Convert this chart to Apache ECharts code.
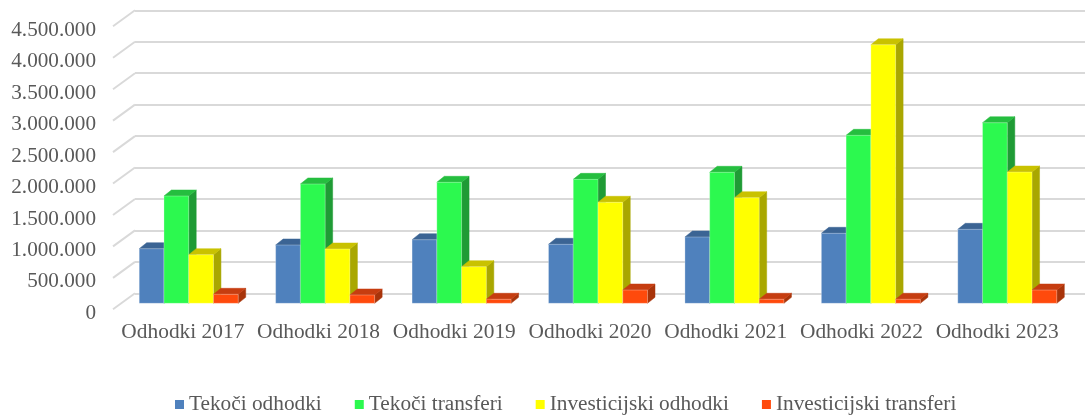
<!DOCTYPE html>
<html>
<head>
<meta charset="utf-8">
<script src="https://cdn.jsdelivr.net/npm/echarts@6/dist/echarts.min.js"></script>
<style>
html,body{margin:0;padding:0;background:#fff;}
#chart{width:1085px;height:417px;}
</style>
</head>
<body>
<div id="chart"></div>
<script>
// ---- data ----
var categories = ['Odhodki 2017','Odhodki 2018','Odhodki 2019','Odhodki 2020','Odhodki 2021','Odhodki 2022','Odhodki 2023'];
var seriesNames = ['Tekoči odhodki','Tekoči transferi','Investicijski odhodki','Investicijski transferi'];
var tekociOdhodki = [868000, 927000, 1011000, 938000, 1054000, 1113000, 1176000];
var tekociTransferi = [1706000, 1897000, 1924000, 1971000, 2083000, 2671000, 2871000];
var investicijskiOdhodki = [773000, 863000, 582000, 1606000, 1679000, 4111000, 2087000];
var investicijskiTransferi = [143000, 132000, 64000, 211000, 64000, 64000, 211000];
var yTicks = [0, 500000, 1000000, 1500000, 2000000, 2500000, 3000000, 3500000, 4000000, 4500000];

// ---- styles ----
var faceColors = [
  {front:'#4F81BD', top:'#3B6494', side:'#345A87'},
  {front:'#2CF94F', top:'#25BE3F', side:'#1F9B35'},
  {front:'#FFFF00', top:'#C9C200', side:'#A9A700'},
  {front:'#FF4A0C', top:'#C63D10', side:'#A8340A'}
];
var BAR_RATIO = 0.1814;   // bar width / category width
var DEPTH_DX = 7.5, DEPTH_DY = 6; // bar depth
var FLOOR_DX = 22, FLOOR_DY = 16; // wall-to-front depth
var FONT = '"Liberation Serif", "Times New Roman", serif';
var TEXT_COLOR = '#595959';
var GRID_COLOR = '#D9D9D9';

function fmt(v){ return String(v).replace(/\B(?=(\d{3})+(?!\d))/g, '.'); }

var allValues = [tekociOdhodki, tekociTransferi, investicijskiOdhodki, investicijskiTransferi];

function makeBarRender(s){
  var c = faceColors[s];
  return function(params, api){
    var idx = api.value(0), val = api.value(1);
    var top = api.coord([idx, val]);
    var base = api.coord([idx, 0]);
    var band = api.size([1, 0])[0];
    var w = band * BAR_RATIO;
    var x0 = top[0] - 2 * w + s * w;
    var yT = top[1], yB = base[1];
    return {
      type: 'group',
      children: [
        {type:'polygon', shape:{points:[[x0+w,yT],[x0+w+DEPTH_DX,yT-DEPTH_DY],[x0+w+DEPTH_DX,yB-DEPTH_DY],[x0+w,yB]]},
         style:{fill:c.side, stroke:c.side, lineWidth:0.5}},
        {type:'polygon', shape:{points:[[x0,yT],[x0+DEPTH_DX,yT-DEPTH_DY],[x0+w+DEPTH_DX,yT-DEPTH_DY],[x0+w,yT]]},
         style:{fill:c.top, stroke:c.top, lineWidth:0.5}},
        {type:'rect', shape:{x:x0, y:yT, width:w, height:yB-yT},
         style:{fill:c.front, stroke:'rgba(255,255,255,0.35)', lineWidth:0.8}}
      ]
    };
  };
}

var series = [];
// diagonal floor-to-wall gridline pieces on the back-wall grid
series.push({
  type:'custom', name:'_diag', xAxisIndex:2, yAxisIndex:2, silent:true, z:1,
  data: yTicks.map(function(v){ return [0, v]; }),
  encode:{x:0, y:1},
  renderItem: function(params, api){
    var p = api.coord([0, api.value(1)]);
    var x = params.coordSys.x;
    return {type:'line', shape:{x1:x, y1:p[1], x2:x-FLOOR_DX, y2:p[1]+FLOOR_DY},
            style:{stroke:GRID_COLOR, lineWidth:2}};
  }
});
for (var s = 0; s < 4; s++) {
  series.push({
    type:'custom', name:seriesNames[s], xAxisIndex:1, yAxisIndex:1, z:2+s,
    itemStyle:{color:faceColors[s].front},
    data: allValues[s].map(function(v, i){ return [i, v]; }),
    encode:{x:0, y:1},
    clip:false,
    renderItem: makeBarRender(s)
  });
}

var yBase = {type:'value', min:0, max:4500000, interval:500000};
function yAxis(opts){ return Object.assign({}, yBase, opts); }

var option = {
  animation:false,
  backgroundColor:'#fff',
  grid:[
    {left:115, width:950, top:30.3, height:283},       // front plane (labels)
    {left:120.5, width:955, top:20.3, height:283},     // bar plane
    {left:135, right:0, top:10.3, height:283}          // back wall
  ],
  xAxis:[
    {type:'category', gridIndex:0, data:categories, axisLine:{show:false}, axisTick:{show:false},
     axisLabel:{color:TEXT_COLOR, fontFamily:FONT, fontSize:21.4, margin:9, interval:0}},
    {type:'category', gridIndex:1, data:categories, show:false},
    {type:'category', gridIndex:2, data:categories, show:false}
  ],
  yAxis:[
    yAxis({gridIndex:0, axisLine:{show:false}, axisTick:{show:false}, splitLine:{show:false},
      axisLabel:{color:TEXT_COLOR, fontFamily:FONT, fontSize:21.2, margin:19, formatter:fmt}}),
    yAxis({gridIndex:1, show:false}),
    yAxis({gridIndex:2, axisLine:{show:false}, axisTick:{show:false}, axisLabel:{show:false},
      splitLine:{show:true, lineStyle:{color:GRID_COLOR, width:2}}})
  ],
  legend:{
    data:seriesNames, left:170, top:389, icon:'rect', itemWidth:9, itemHeight:9, itemGap:33,
    textStyle:{color:TEXT_COLOR, fontFamily:FONT, fontSize:21.3}
  },
  series: series
};

var chart = echarts.init(document.getElementById('chart'), null, {renderer:'canvas'});
chart.setOption(option);
</script>
</body>
</html>
